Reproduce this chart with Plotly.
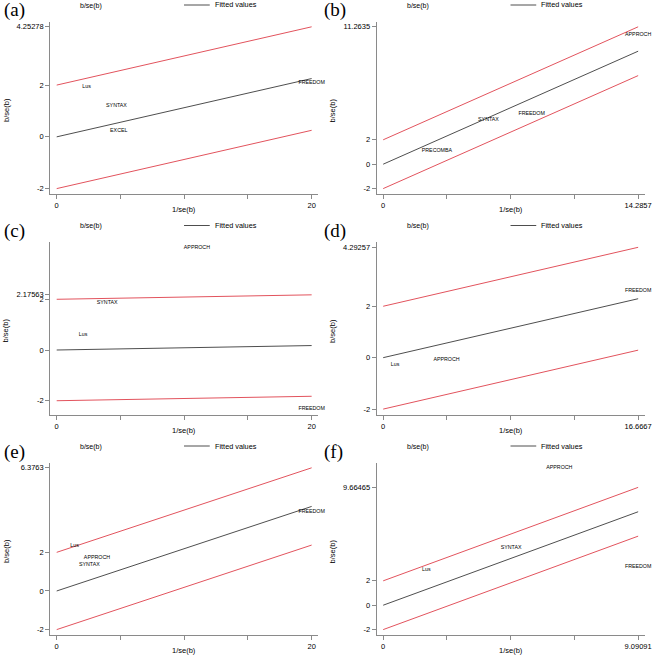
import plotly.graph_objects as go

W, H = 659, 656

# ---------------- data ----------------
panel_letters = ["(a)", "(b)", "(c)", "(d)", "(e)", "(f)"]
x_max = [20, 14.2857, 20, 16.6667, 20, 9.09091]
x_max_labels = ["20", "14.2857", "20", "16.6667", "20", "9.09091"]
fit_at_xmax = [2.25278, 9.2635, 0.17563, 2.29257, 4.3763, 7.66465]
upper_labels = ["4.25278", "11.2635", "2.17563", "4.29257", "6.3763", "9.66465"]

studies_a = ["Lus", "SYNTAX", "EXCEL", "FREEDOM"]
prec_a = [2.34, 4.69, 4.87, 20]
z_a = [1.95, 1.20, 0.24, 2.08]

studies_b = ["APPROCH", "SYNTAX", "FREEDOM", "PRECOMBA"]
prec_b = [14.2857, 5.90, 8.32, 3.01]
z_b = [10.65, 3.61, 4.16, 1.12]

studies_c = ["APPROCH", "SYNTAX", "Lus", "FREEDOM"]
prec_c = [11.0, 3.96, 2.07, 20]
z_c = [4.05, 1.87, 0.59, -2.33]

studies_d = ["FREEDOM", "Lus", "APPROCH"]
prec_d = [16.6667, 0.78, 4.14]
z_d = [2.59, -0.28, -0.09]

studies_e = ["Lus", "APPROCH", "SYNTAX", "FREEDOM"]
prec_e = [1.40, 3.16, 2.56, 20]
z_e = [2.34, 1.71, 1.38, 4.12]

studies_f = ["APPROCH", "SYNTAX", "Lus", "FREEDOM"]
prec_f = [6.28, 4.56, 1.54, 9.09091]
z_f = [11.27, 4.70, 2.94, 3.16]

studies = [studies_a, studies_b, studies_c, studies_d, studies_e, studies_f]
precs = [prec_a, prec_b, prec_c, prec_d, prec_e, prec_f]
zs = [z_a, z_b, z_c, z_d, z_e, z_f]
band = 2

# ---------------- layout geometry (pixels) ----------------
col_off = [0, 330]
row_off = [0, 220.5, 441]
FR_L, FR_R = 50.7, 321.7      # frame x within panel
FR_T, FR_B = 21.7, 194.3      # frame y within panel
DX0, DX1 = 57.3, 315.0        # data 0..xmax positions
DY_TOP, DY_BOT = 26.8, 188.6  # data max/min positions

RED = "#e2535d"
FIT = "#3a3a3a"
AX = "#8a8a8a"
TXT = "#000000"
SANS = "Liberation Sans, Arial, sans-serif"
SERIF = "Liberation Serif, Times New Roman, serif"


def px(x):
    return x / W


def py(y):
    return 1 - y / H


fig = go.Figure()
annotations = []
shapes = []

for i in range(6):
    r, c = divmod(i, 2)
    ox, oy = col_off[c], row_off[r]
    xa = "x" if i == 0 else f"x{i+1}"
    ya = "y" if i == 0 else f"y{i+1}"
    xm = x_max[i]
    fit = fit_at_xmax[i]

    # lines: +2, -2, fitted
    fig.add_trace(go.Scatter(x=[0, xm], y=[band, band + fit], mode="lines",
                             line=dict(color=RED, width=1), xaxis=xa, yaxis=ya,
                             showlegend=False, hoverinfo="skip"))
    fig.add_trace(go.Scatter(x=[0, xm], y=[-band, -band + fit], mode="lines",
                             line=dict(color=RED, width=1), xaxis=xa, yaxis=ya,
                             showlegend=False, hoverinfo="skip"))
    fig.add_trace(go.Scatter(x=[0, xm], y=[0, fit], mode="lines",
                             line=dict(color=FIT, width=0.9), xaxis=xa, yaxis=ya,
                             showlegend=False, hoverinfo="skip"))
    # study labels
    fig.add_trace(go.Scatter(x=precs[i], y=zs[i], mode="text", text=studies[i],
                             textposition="middle center",
                             textfont=dict(family=SANS, size=5.3, color=TXT),
                             xaxis=xa, yaxis=ya, showlegend=False, cliponaxis=False))

    # ranges
    ymin = min([-band] + zs[i])
    ymax = max([band + fit] + zs[i])
    unit = (DY_BOT - DY_TOP) / (ymax - ymin)
    yr = [ymin - (FR_B - DY_BOT) / unit, ymax + (DY_TOP - FR_T) / unit]
    sx = (DX1 - DX0) / xm
    xr = [-(DX0 - FR_L) / sx, xm + (FR_R - DX1) / sx]

    q = xm / 4
    axis_common = dict(showline=True, linecolor=AX, linewidth=1, ticks="outside",
                       ticklen=4, tickcolor=AX, tickwidth=1, showgrid=False,
                       zeroline=False, tickfont=dict(family=SANS, size=7.5, color=TXT),
                       fixedrange=True)
    fig.layout[f"xaxis{'' if i == 0 else i+1}"] = dict(
        axis_common, anchor=ya, range=xr,
        domain=[px(ox + FR_L), px(ox + FR_R)],
        tickmode="array", tickvals=[0, q, 2 * q, 3 * q, xm],
        ticktext=["0", "", "", "", x_max_labels[i]])
    fig.layout[f"yaxis{'' if i == 0 else i+1}"] = dict(
        axis_common, anchor=xa, range=yr,
        domain=[py(oy + FR_B), py(oy + FR_T)],
        tickmode="array", tickvals=[-2, 0, 2, band + fit],
        ticktext=["-2", "0", "2", upper_labels[i]])

    # axis titles
    annotations.append(dict(x=px(ox + (DX0 + DX1) / 2), y=py(oy + 209.5),
                            xref="paper", yref="paper", text="1/se(b)", showarrow=False,
                            font=dict(family=SANS, size=7.5, color=TXT),
                            xanchor="center", yanchor="middle"))
    annotations.append(dict(x=px(ox + 6), y=py(oy + 110), xref="paper", yref="paper",
                            text="b/se(b)", showarrow=False, textangle=-90,
                            font=dict(family=SANS, size=7.5, color=TXT),
                            xanchor="center", yanchor="middle"))
    # legend
    annotations.append(dict(x=px(ox + 92), y=py(oy + 5.5), xref="paper", yref="paper",
                            text="b/se(b)", showarrow=False,
                            font=dict(family=SANS, size=7, color=TXT),
                            xanchor="center", yanchor="middle"))
    annotations.append(dict(x=px(ox + 215), y=py(oy + 5), xref="paper", yref="paper",
                            text="Fitted values", showarrow=False,
                            font=dict(family=SANS, size=7.3, color=TXT),
                            xanchor="left", yanchor="middle"))
    shapes.append(dict(type="line", xref="paper", yref="paper",
                       x0=px(ox + 186), x1=px(ox + 212), y0=py(oy + 5), y1=py(oy + 5),
                       line=dict(color=FIT, width=0.9)))
    # panel letter
    lx = 2 if c == 0 else 325
    annotations.append(dict(x=px(lx), y=py(oy + 10.5), xref="paper", yref="paper",
                            text=panel_letters[i], showarrow=False,
                            font=dict(family=SERIF, size=19, color=TXT),
                            xanchor="left", yanchor="middle"))

fig.update_layout(width=W, height=H, margin=dict(l=0, r=0, t=0, b=0),
                  paper_bgcolor="white", plot_bgcolor="white",
                  annotations=annotations, shapes=shapes, showlegend=False)

fig.write_html("out.html", config={"displayModeBar": False},
               post_script="document.body.style.margin='0';document.body.style.padding='0';")
